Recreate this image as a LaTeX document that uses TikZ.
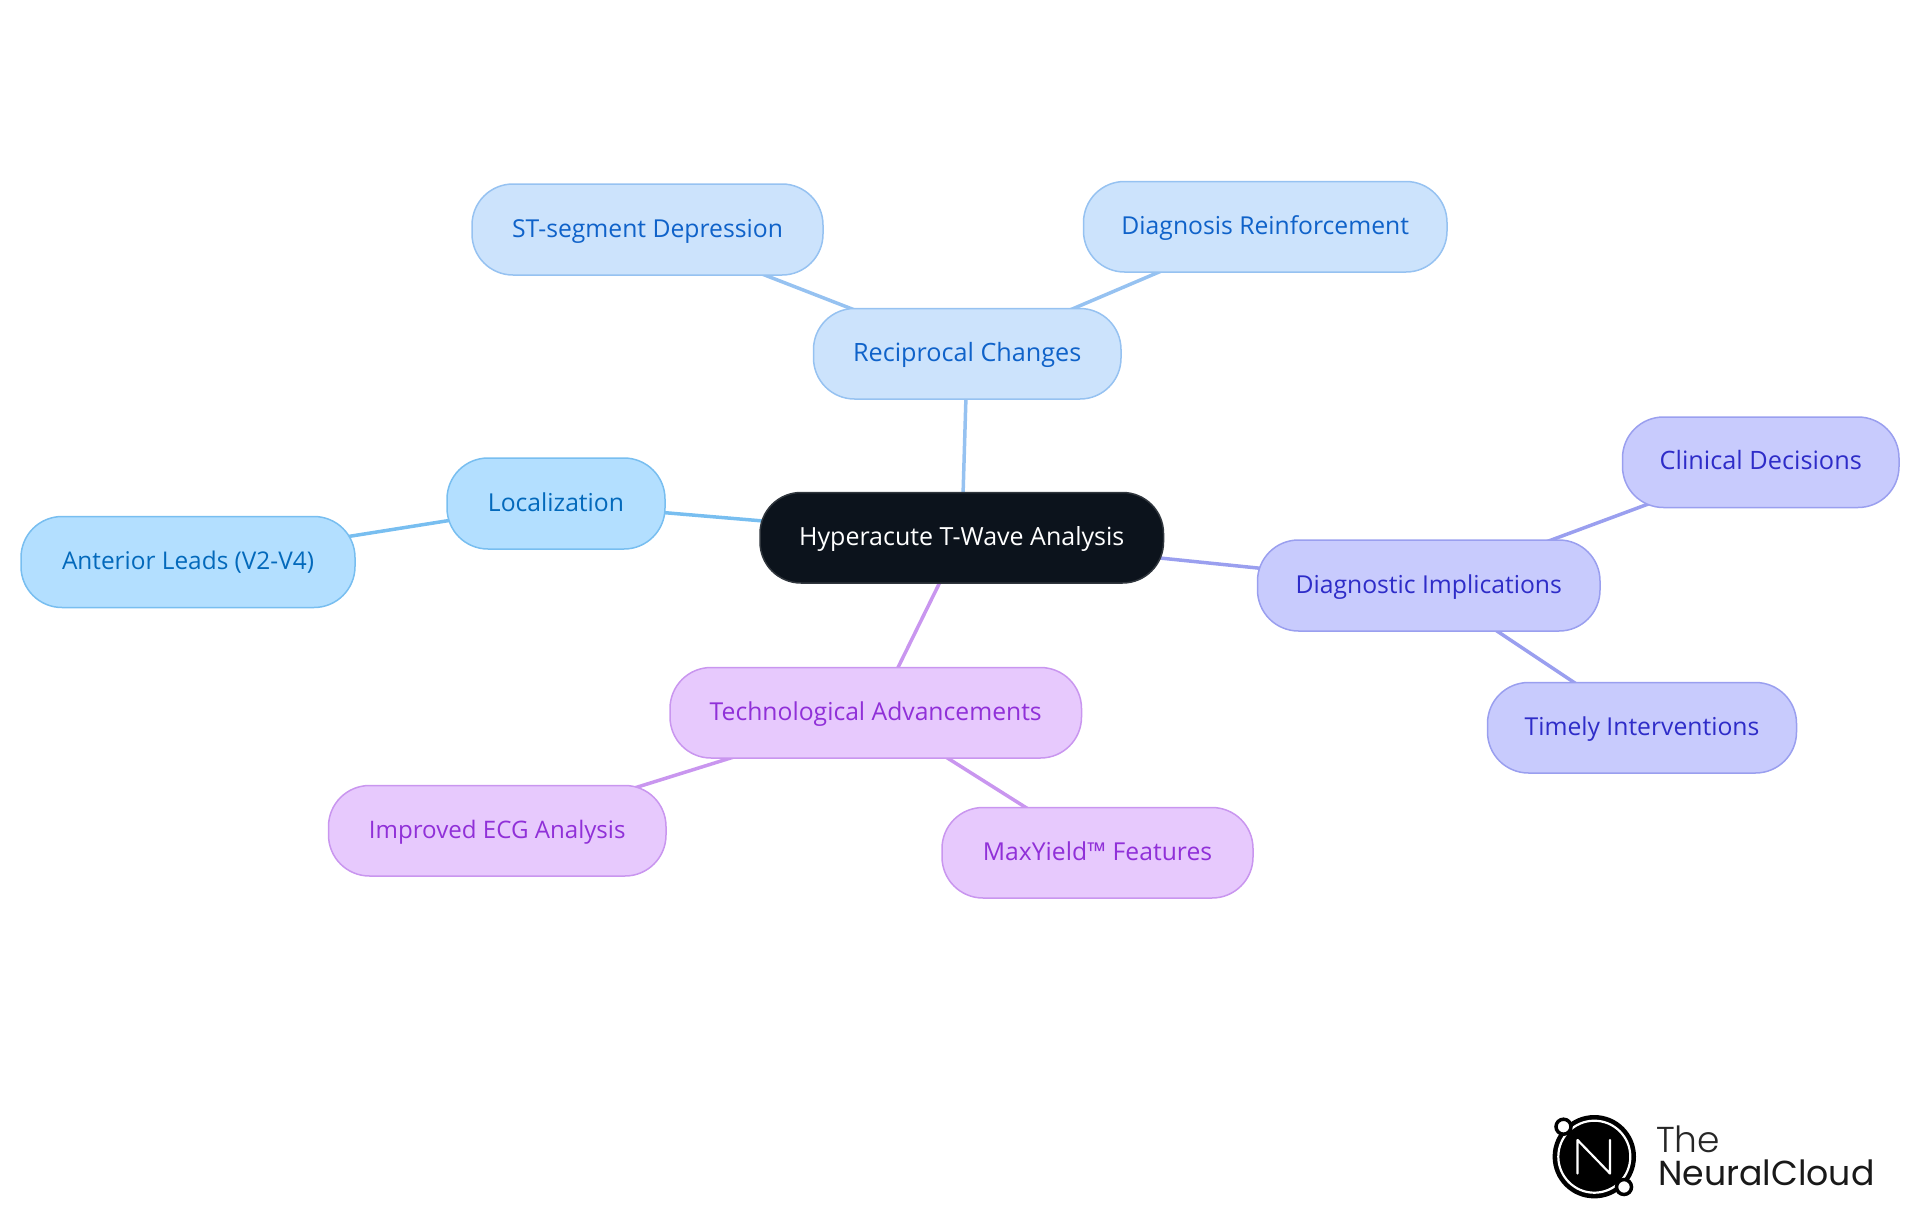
\documentclass[tikz,border=0pt]{standalone}
\usepackage{fontspec}
\setmainfont{Open Sans}
\newfontfamily\logolight[UprightFont={* Light}]{Poppins}
\newfontfamily\logoreg{Poppins}
\usetikzlibrary{backgrounds}
\definecolor{rootfill}{HTML}{0C131C}
\definecolor{rootline}{HTML}{30363D}
\definecolor{skyfill}{HTML}{B3DFFF}
\definecolor{skyline}{HTML}{78BEF0}
\definecolor{skytext}{HTML}{0369BB}
\definecolor{bluefill}{HTML}{CCE3FC}
\definecolor{blueline}{HTML}{96C2F1}
\definecolor{bluetext}{HTML}{0F62C9}
\definecolor{indfill}{HTML}{C8CBFD}
\definecolor{indline}{HTML}{9A9FEF}
\definecolor{indtext}{HTML}{2E2CC8}
\definecolor{purfill}{HTML}{E7C9FD}
\definecolor{purline}{HTML}{C996EF}
\definecolor{purtext}{HTML}{9030D8}
\tikzset{
  x=1pt,y=-1pt,
  fs/.style={font=\fontsize{#1}{28}\selectfont},
  box/.style={rounded corners=41pt,line width=1.5pt,inner sep=0pt,
    fs=24.7,text height=18pt,text depth=3pt,align=center},
  rootbox/.style={box,fill=rootfill,draw=rootline,text=white},
  skybox/.style={box,fill=skyfill,draw=skyline,text=skytext},
  bluebox/.style={box,fill=bluefill,draw=blueline,text=bluetext},
  indbox/.style={box,fill=indfill,draw=indline,text=indtext},
  purbox/.style={box,fill=purfill,draw=purline,text=purtext},
  skyedge/.style={draw=skyline,line width=3.5pt},
  blueedge/.style={draw=blueline,line width=3.5pt},
  indedge/.style={draw=indline,line width=3.5pt},
  puredge/.style={draw=purline,line width=3.5pt},
}
\newcommand{\bx}[7]{% style,name,x0,x1,y0,y1,text
  \node[#1,minimum width={#4-#3},minimum height={#6-#5}] (#2) at ({(#3+#4)/2},{(#5+#6)/2}) {#7};}
\begin{document}
\begin{tikzpicture}
\useasboundingbox (0,0) rectangle (1920,1215);
\bx{rootbox,fs=25}{root}{760}{1163.5}{492.5}{583}{Hyperacute T-Wave Analysis}
\bx{skybox}{loc}{447}{665}{458}{549}{Localization}
\bx{skybox,fs=24.4}{ant}{21}{355}{516.5}{607.5}{Anterior Leads (V2-V4)}
\bx{bluebox,fs=25.2}{rec}{813.5}{1121}{308.5}{399}{Reciprocal Changes}
\bx{bluebox}{st}{472}{823}{184}{275}{ST-segment Depression}
\bx{bluebox}{dia}{1083.5}{1447}{181.5}{272}{Diagnosis Reinforcement}
\bx{indbox}{imp}{1257.5}{1600}{540}{631}{Diagnostic Implications}
\bx{indbox,fs=25.3}{cli}{1622.5}{1899}{417}{507.5}{Clinical Decisions}
\bx{indbox}{tim}{1487.5}{1796.5}{682.5}{773}{Timely Interventions}
\bx{purbox}{tec}{670}{1081.5}{667.5}{758}{Technological Advancements}
\bx{purbox,fs=24.1}{ecg}{328.5}{666}{785.5}{876}{Improved ECG Analysis}
\bx{purbox}{max}{942}{1253}{807.5}{898}{MaxYield™ Features}
\begin{scope}[on background layer]
\draw[skyedge] (root.center) -- (loc.center);
\draw[skyedge] (loc.center) -- (ant.center);
\draw[blueedge] (root.center) -- (rec.center);
\draw[blueedge] (rec.center) -- (st.center);
\draw[blueedge] (rec.center) -- (dia.center);
\draw[indedge] (root.center) -- (imp.center);
\draw[indedge] (imp.center) -- (cli.center);
\draw[indedge] (imp.center) -- (tim.center);
\draw[puredge] (root.center) -- (tec.center);
\draw[puredge] (tec.center) -- (ecg.center);
\draw[puredge] (tec.center) -- (max.center);
\end{scope}
% logo
\fill[black] (1594.3,1156.7) circle (41.7);
\draw[white,line width=2.2pt] (1594.3,1156.7) circle (36);
\draw[white,line width=2.2pt,line join=round,line cap=round] (1577.5,1173.5) -- (1577.5,1140) -- (1610,1173.5) -- (1610,1140);
\draw[black,fill=white,line width=3.5pt] (1563.5,1126.7) circle (7.5);
\draw[black,fill=white,line width=3.5pt] (1624,1187) circle (7.5);
\node[anchor=base west,inner sep=0pt,font=\logolight\fontsize{36}{40}\selectfont,text=black!85] (the) at (1656,1152.5) {The};
\node[anchor=base west,inner sep=0pt,font=\logoreg\fontsize{34.7}{40}\selectfont,text=black!90] (cloud) at (1658,1185) {NeuralCloud};
\end{tikzpicture}
\end{document}
